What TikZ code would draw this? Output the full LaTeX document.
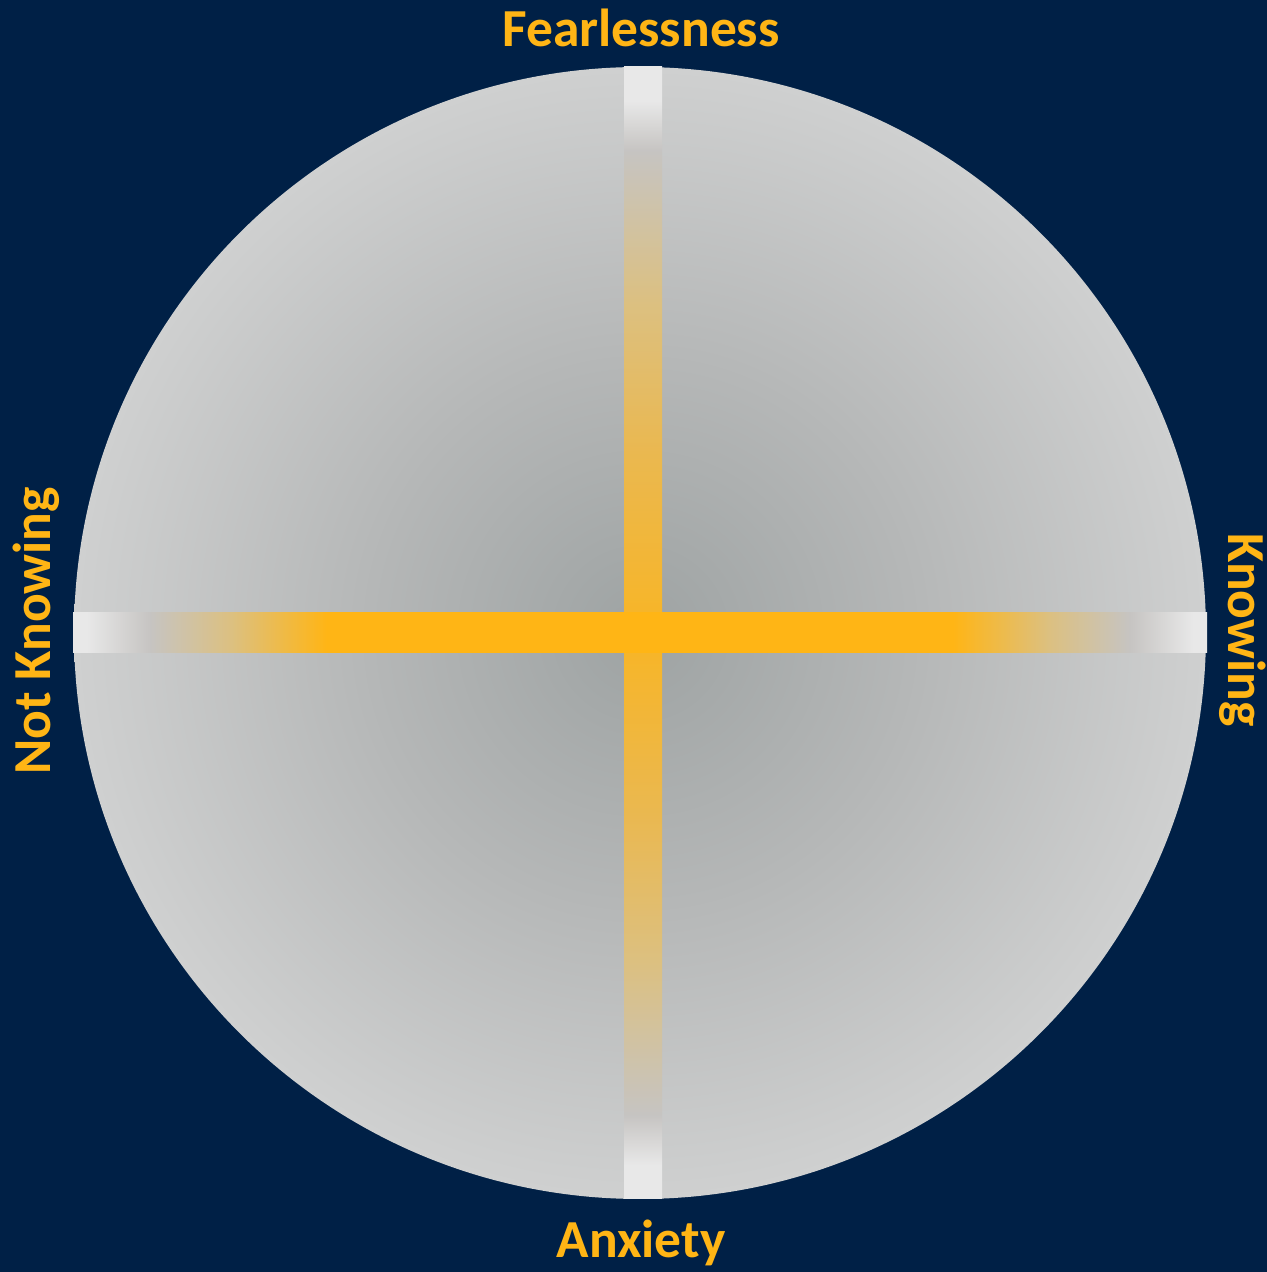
\documentclass[tikz,border=0pt]{standalone}
\usepackage{fontspec}
\setmainfont{Carlito}
\definecolor{bgnavy}{HTML}{002046}
\definecolor{discc}{HTML}{9EA3A3}
\definecolor{discm}{HTML}{B5B7B7}
\definecolor{disce}{HTML}{CFD0D0}
\definecolor{gold}{HTML}{FFB515}
\definecolor{vgold}{HTML}{F8B525}
\definecolor{lite}{HTML}{E8E8E8}
\definecolor{midgray}{HTML}{C6C4C2}
\definecolor{tan}{HTML}{DCC080}
\definecolor{tan2}{HTML}{EAB850}
\pgfdeclareradialshading{disc}{\pgfpoint{0bp}{0bp}}{color(0bp)=(discc); color(12bp)=(discm); color(25bp)=(disce); color(50bp)=(disce)}
\pgfdeclarehorizontalshading{hbar}{100bp}{color(0bp)=(lite); color(25bp)=(lite); color(25.6bp)=(lite); color(28.4bp)=(midgray); color(32bp)=(tan); color(36.2bp)=(gold); color(63.8bp)=(gold); color(68bp)=(tan); color(71.6bp)=(midgray); color(74.4bp)=(lite); color(75bp)=(lite); color(100bp)=(lite)}
\pgfdeclareverticalshading{vbar}{100bp}{color(0bp)=(lite); color(25bp)=(lite); color(26.5bp)=(lite); color(28.7bp)=(midgray); color(35.5bp)=(tan); color(42bp)=(tan2); color(50bp)=(vgold); color(58bp)=(tan2); color(64.5bp)=(tan); color(71.3bp)=(midgray); color(73.5bp)=(lite); color(75bp)=(lite); color(100bp)=(lite)}
\tikzset{
  lbl/.style={text=gold, font=\fontsize{53.5bp}{60bp}\selectfont\bfseries, inner sep=0pt},
}
\begin{document}
\begin{tikzpicture}[x=1bp,y=1bp]
  \fill[bgnavy] (0,0) rectangle (1267,1272);
  \useasboundingbox (0,0) rectangle (1267,1272);
  \shade[shading=disc] (640,639) circle[radius=566];
  \shade[shading=vbar] (624,73) rectangle (662,1205);
  \shade[shading=hbar] (73,619) rectangle (1207,659);
  \node[lbl, anchor=base] (top) at (641,1225) {Fearlessness};
  \node[lbl, anchor=base] (bottom) at (641,14) {Anxiety};
  \node[lbl, anchor=base, rotate=90] (left) at (50,641) {Not Knowing};
  \node[lbl, anchor=base, rotate=-90] (right) at (1228,642) {Knowing};
\end{tikzpicture}
\end{document}
